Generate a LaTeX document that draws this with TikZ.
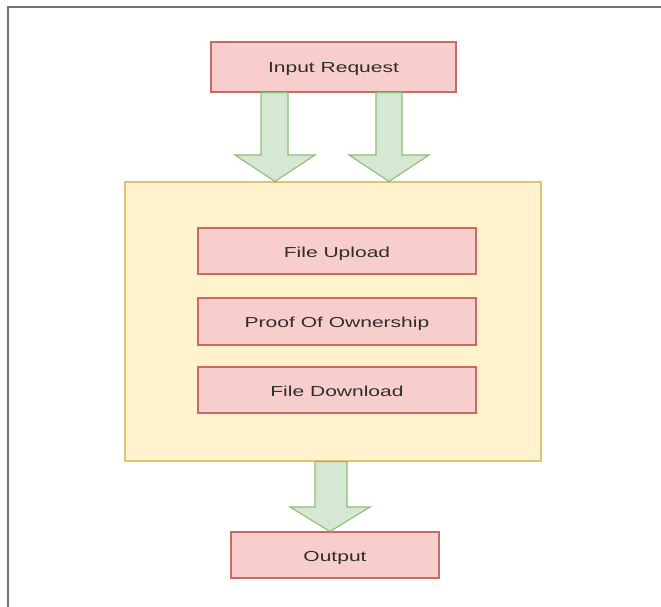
\documentclass[tikz,border=0pt]{standalone}
\usepackage{fontspec}
\setmainfont{Liberation Sans}
\usetikzlibrary{calc}
\definecolor{pinkfill}{HTML}{F8CECC}
\definecolor{pinkline}{HTML}{C86A66}
\definecolor{greenfill}{HTML}{D5E8D4}
\definecolor{greenline}{HTML}{8FBC74}
\definecolor{yelfill}{HTML}{FFF2CC}
\definecolor{yelline}{HTML}{DEC374}
\definecolor{txt}{HTML}{2E2E2E}
\newcommand\wtext[1]{\scalebox{1.45}[1]{#1}}
\tikzset{
  pinkbox/.style={draw=pinkline, fill=pinkfill, line width=1.1pt, inner sep=0pt,
    text=txt, font=\fontsize{14.5}{16}\selectfont, text height=13pt, text depth=1pt},
  yelbox/.style={draw=yelline, fill=yelfill, line width=1.1pt, inner sep=0pt},
  garrow/.style={draw=greenline, fill=greenfill, line width=1.1pt, line join=miter},
  frame/.style={draw=black!55, line width=2pt}
}
\begin{document}
\begin{tikzpicture}[x=1pt,y=-1pt]
\useasboundingbox (0,0) rectangle (661,607);
\fill[white] (0,0) rectangle (661,607);
\draw[frame] (8,607) -- (8,7.5) -- (661,7.5);

\node[pinkbox, minimum width=245pt, minimum height=50pt] (in) at (333.5,67) {\wtext{Input Request}};
\node[yelbox, minimum width=416pt, minimum height=279pt] (ctr) at (333,321.5) {};
\node[pinkbox, minimum width=278pt, minimum height=46pt] (up) at (337,251) {\wtext{File Upload}};
\node[pinkbox, minimum width=278pt, minimum height=47pt] (pow) at (337,321.5) {\wtext{Proof Of Ownership}};
\node[pinkbox, minimum width=278pt, minimum height=46pt] (down) at (337,390) {\wtext{File Download}};
\node[pinkbox, minimum width=208pt, minimum height=46pt] (out) at (335,555) {\wtext{Output}};

% left block arrow: Input Request -> container
\draw[garrow] (261,0 |- in.south) -- (288,0 |- in.south) -- (288,155) -- (315,155)
  -- (275,0 |- ctr.north) -- (235,155) -- (261,155) -- cycle;
% right block arrow
\draw[garrow] (376,0 |- in.south) -- (402,0 |- in.south) -- (402,155) -- (429,155)
  -- (389,0 |- ctr.north) -- (349,155) -- (376,155) -- cycle;
% bottom block arrow: container -> Output
\draw[garrow] (315,0 |- ctr.south) -- (347,0 |- ctr.south) -- (347,507) -- (370,507)
  -- (330,0 |- out.north) -- (290,507) -- (315,507) -- cycle;
\end{tikzpicture}
\end{document}
